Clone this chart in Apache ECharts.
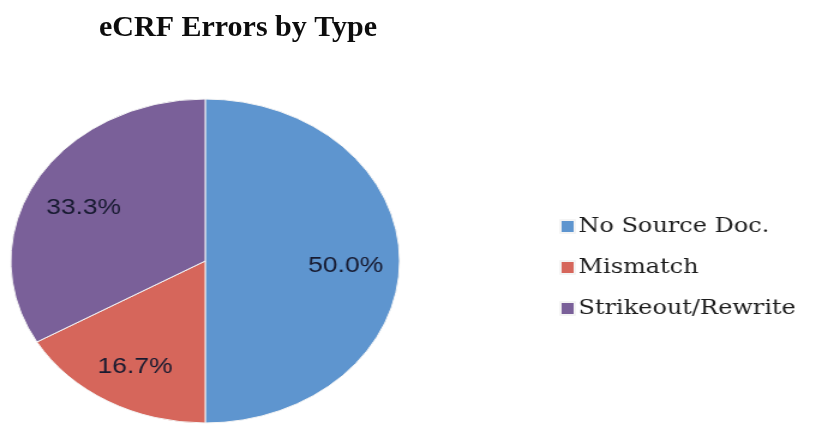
<!DOCTYPE html>
<html>
<head>
<meta charset="utf-8">
<script src="https://cdn.jsdelivr.net/npm/echarts@6/dist/echarts.min.js"></script>
<style>
  html, body { margin: 0; padding: 0; background: #fff; }
  #wrap { position: relative; width: 817px; height: 425px; overflow: hidden; }
  /* the original pie is stretched sideways, so the pie layer is scaled */
  #pie { position: absolute; left: 0; top: 0; width: 681px; height: 425px;
         transform: scaleX(1.2); transform-origin: 0 0; }
  #head { position: absolute; left: 0; top: 0; width: 817px; height: 80px; }
</style>
</head>
<body>
<div id="wrap">
  <div id="pie"></div>
  <div id="head"></div>
</div>
<script>
var titleText = 'eCRF Errors by Type';
var categories = ['No Source Doc.', 'Mismatch', 'Strikeout/Rewrite'];
var counts = [3, 1, 2];
var colors = ['#5e95cf', '#d6665b', '#7a6099'];

var pieData = [];
for (var i = 0; i < categories.length; i++) {
    pieData.push({name: categories[i], value: counts[i]});
}

var pieChart = echarts.init(document.getElementById('pie'));
pieChart.setOption({
    animation: false,
    color: colors,
    legend: {
        orient: 'vertical',
        left: 461,
        top: 211,
        itemWidth: 12,
        itemHeight: 13,
        itemGap: 20,
        icon: 'rect',
        data: categories,
        textStyle: {
            fontFamily: 'DejaVu Serif',
            fontSize: 20,
            lineHeight: 21,
            color: '#1c1c1c',
            padding: [0, 0, 0, -2]
        }
    },
    series: [
        {
            type: 'pie',
            center: [171, 261],
            radius: [0, 162],
            startAngle: 90,
            silent: true,
            label: {show: false},
            labelLine: {show: false},
            itemStyle: {borderColor: '#f4f4f4', borderWidth: 1},
            data: pieData
        },
        {
            // transparent ring only used to place the percent labels further out
            type: 'pie',
            center: [171, 266],
            radius: [66, 162],
            startAngle: 90,
            silent: true,
            itemStyle: {color: 'rgba(0,0,0,0)'},
            label: {
                show: true,
                position: 'inside',
                fontFamily: 'Liberation Sans',
                fontSize: 22,
                color: '#171a30',
                formatter: function (p) { return p.percent.toFixed(1) + '%'; }
            },
            labelLine: {show: false},
            data: pieData
        }
    ]
});

var headChart = echarts.init(document.getElementById('head'));
headChart.setOption({
    title: {
        text: titleText,
        left: 94,
        top: 8,
        textStyle: {
            fontFamily: 'Liberation Serif',
            fontWeight: 'bold',
            fontSize: 30,
            color: '#0d0d0d'
        }
    }
});
</script>
</body>
</html>
